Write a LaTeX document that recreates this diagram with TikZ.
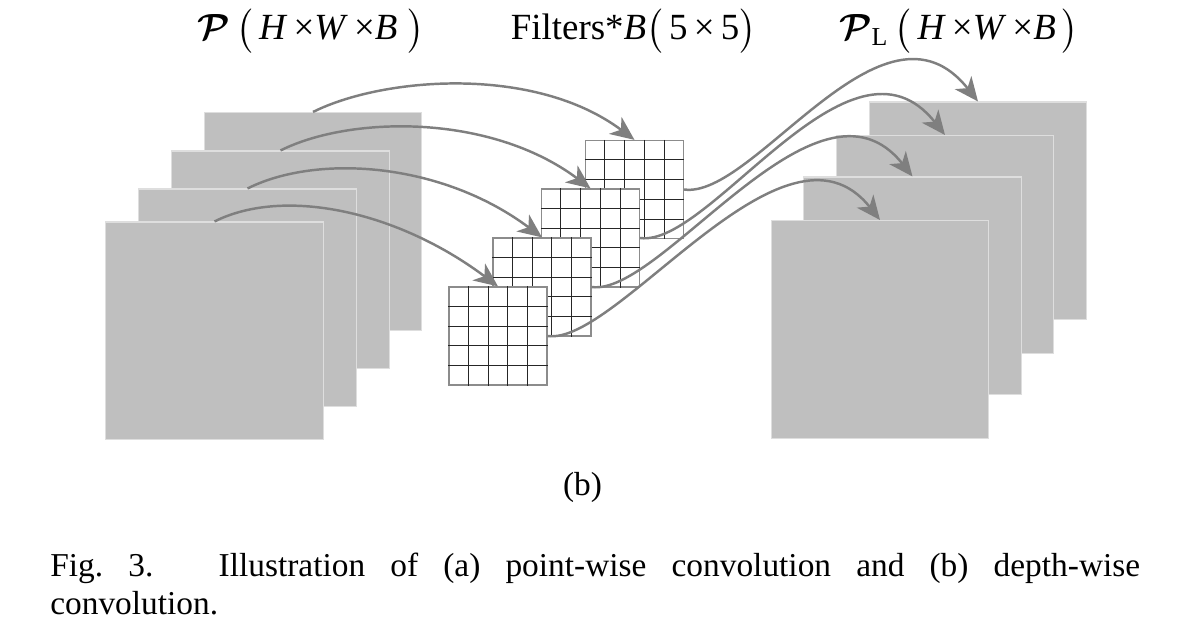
\documentclass[tikz,border=0pt]{standalone}
\usepackage{amsmath,amssymb}
\usepackage{fontspec}
\setmainfont{Liberation Serif}
\usepackage{xcolor}
\usepackage{tikz}
\usetikzlibrary{arrows.meta,calc}
\definecolor{mapGray}{HTML}{BFBFBF}
\definecolor{mapEdge}{HTML}{DEDEDE}
\definecolor{flowGray}{HTML}{7F7F7F}
\definecolor{kernelEdge}{HTML}{8C8C8C}
\definecolor{cellInk}{HTML}{262626}
\tikzset{
  featuremap/.style={
    rectangle,
    draw=mapEdge,
    fill=mapGray,
    line width=0.6pt,
    minimum width=4.35cm,
    minimum height=4.36cm,
    inner sep=0pt
  },
  kernel/.style={
    rectangle,
    draw=kernelEdge,
    fill=white,
    line width=0.7pt,
    minimum size=1.96cm,
    inner sep=0pt
  },
  cellline/.style={
    line width=0.55pt,
    draw=cellInk
  },
  flow/.style={
    -{Stealth[length=4.8mm,width=4.2mm,inset=1.4mm]},
    line width=1.4pt,
    draw=flowGray
  },
  heading/.style={
    font=\fontsize{21}{25}\selectfont,
    inner sep=0pt,
    anchor=base
  },
  captionline/.style={
    font=\fontsize{19}{23}\selectfont\frenchspacing,
    inner sep=0pt,
    anchor=base west
  }
}

\begin{document}
\begin{tikzpicture}[x=0.02cm,y=0.02cm]
  \useasboundingbox (0,0) rectangle (1181,634);
  \node[featuremap] (in4) at (313,412.5) {};
  \node[featuremap] (in3) at (280.5,374) {};
  \node[featuremap] (in2) at (247.5,336) {};
  \node[featuremap] (in1) at (214.5,303) {};
  \node[featuremap] (out4) at (978,423) {};
  \node[featuremap] (out3) at (945,389.5) {};
  \node[featuremap] (out2) at (912.5,348) {};
  \node[featuremap] (out1) at (880,304.5) {};
  \foreach \k/\x/\y in {4/634.5/444.5, 3/590.5/396, 2/542/347, 1/498/298} {
    \node[kernel] (k\k) at (\x,\y) {};
    \foreach \i in {1,...,4} {
      \draw[cellline] ($(k\k.north west)!\i/5!(k\k.north east)$) -- ($(k\k.south west)!\i/5!(k\k.south east)$);
      \draw[cellline] ($(k\k.north west)!\i/5!(k\k.south west)$) -- ($(k\k.north east)!\i/5!(k\k.south east)$);
    }
  }
  \foreach \k in {1,...,4} {
    \draw[flow] (in\k.north) .. controls +(70,35) and +(-100,75) .. (k\k.north);
    \draw[flow] (k\k.east) .. controls +(70,-10) and +(-95,120) .. (out\k.north);
  }
  \node[heading] (titleIn) at (311,594)
    {$\boldsymbol{\mathcal{P}}\,\big($\,\textit{H}\,×\textit{W}\,×\textit{B}\;$\big)$};
  \node[heading] (titleKernel) at (633.5,594)
    {Filters*\textit{B}$\big($\,5\,×\,5$\big)$};
  \node[heading] (titleOut) at (959,594)
    {$\boldsymbol{\mathcal{P}}_{\textrm{L}}\,\big($\,\textit{H}\,×\textit{W}\,×\textit{B}\,$\big)$};
  \node[heading] (subfig) at (582.5,138) {\fontsize{19}{23}\selectfont(b)};
  \node[captionline] (capFirst) at (50,57)
    {\makebox[21.8cm][s]{Fig. 3.\hspace{0.8cm} Illustration of (a) point-wise convolution and (b) depth-wise}};
  \node[captionline] (capSecond) at (50,19) {convolution.};
\end{tikzpicture}
\end{document}
